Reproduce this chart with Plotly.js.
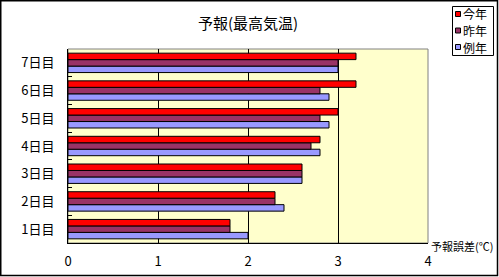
<!DOCTYPE html>
<html>
<head>
<meta charset="utf-8">
<script src="https://cdn.plot.ly/plotly-3.0.1.min.js"></script>
<style>html,body{margin:0;padding:0;background:#fff;}#chart{width:499px;height:277px;}</style>
</head>
<body>
<div id="chart"></div>
<script>
var categories = ["1日目","2日目","3日目","4日目","5日目","6日目","7日目"];
var seriesNames = ["今年","昨年","例年"];
var thisYear = [1.8, 2.3, 2.6, 2.8, 3.0, 3.2, 3.2];
var lastYear = [1.8, 2.3, 2.6, 2.7, 2.8, 2.8, 3.0];
var normalYear = [2.0, 2.4, 2.6, 2.8, 2.9, 2.9, 3.0];
var xTicks = [0, 1, 2, 3, 4];
var colors = ["#FF0000", "#993366", "#9999FF"];
var FONT = '"Noto Sans CJK JP", "Noto Sans", sans-serif';

var ML = 68, MR = 71, MT = 49, MB = 34, W = 499, H = 277;
var PW = W - ML - MR, PH = H - MT - MB;
function px(x) { return (x - ML) / PW; }
function py(y) { return (H - MB - y) / PH; }

function bar(name, vals, color) {
  return {type: 'bar', orientation: 'h', name: name, y: categories, x: vals, showlegend: false,
    marker: {color: color, line: {color: '#000', width: 1}}, hoverinfo: 'skip'};
}
var traces = [
  bar(seriesNames[2], normalYear, colors[2]),
  bar(seriesNames[1], lastYear, colors[1]),
  bar(seriesNames[0], thisYear, colors[0])
];

var shapes = [
  {type: 'rect', xref: 'paper', yref: 'paper', x0: 0, x1: 1, y0: 0, y1: 1, line: {color: '#808080', width: 1}, layer: 'below'},
  {type: 'rect', xref: 'paper', yref: 'paper', x0: px(0.75), x1: px(497.5), y0: py(275.5), y1: py(0.75), line: {color: '#000', width: 1.5}},
  {type: 'rect', xref: 'paper', yref: 'paper', x0: px(452.5), x1: px(493.5), y0: py(55.5), y1: py(6.5), line: {color: '#000', width: 1}, fillcolor: '#fff'}
];
var annotations = [
  {text: '予報誤差(℃)', xref: 'paper', yref: 'paper', x: 1, y: 0, xanchor: 'left', yanchor: 'middle', xshift: 1, yshift: -3,
   showarrow: false, font: {family: FONT, size: 11, color: '#000'}}
];
var legendY = [14, 30.5, 47];
seriesNames.forEach(function (name, i) {
  var cy = legendY[i];
  shapes.push({type: 'rect', xref: 'paper', yref: 'paper', x0: px(455.5), x1: px(460.5), y0: py(cy + 2.5), y1: py(cy - 2.5),
    line: {color: '#000', width: 1}, fillcolor: colors[i]});
  annotations.push({text: name, xref: 'paper', yref: 'paper', x: px(461), y: py(cy), xanchor: 'left', yanchor: 'middle',
    showarrow: false, font: {family: FONT, size: 12, color: '#000'}});
});

var layout = {
  width: W, height: H,
  margin: {l: ML, r: MR, t: MT, b: MB, pad: 0, autoexpand: false},
  paper_bgcolor: '#fff', plot_bgcolor: '#FFFFCC',
  font: {family: FONT, color: '#000', size: 13},
  title: {text: '予報(最高気温)', font: {family: FONT, size: 15, color: '#000'}, x: 0.497, xanchor: 'center', y: 0.915, yanchor: 'middle'},
  barmode: 'group', bargap: 0.3, bargroupgap: 0,
  showlegend: false,
  xaxis: {range: [0, 4], tickvals: xTicks, ticktext: xTicks.map(String), showgrid: true, gridcolor: '#000', gridwidth: 1,
    zeroline: false, showline: true, linecolor: '#000', linewidth: 1, ticks: '', ticklabelstandoff: 6,
    tickfont: {family: FONT, size: 13}, fixedrange: true, automargin: false},
  yaxis: {type: 'category', categoryorder: 'array', categoryarray: categories, tickson: 'boundaries',
    ticks: 'inside', ticklen: 4, tickcolor: '#000', showgrid: false, zeroline: false,
    showline: true, linecolor: '#000', linewidth: 1, ticklabelstandoff: 10,
    tickfont: {family: FONT, size: 13}, fixedrange: true, automargin: false},
  shapes: shapes,
  annotations: annotations
};
Plotly.newPlot('chart', traces, layout, {staticPlot: true, displayModeBar: false});
</script>
</body>
</html>
